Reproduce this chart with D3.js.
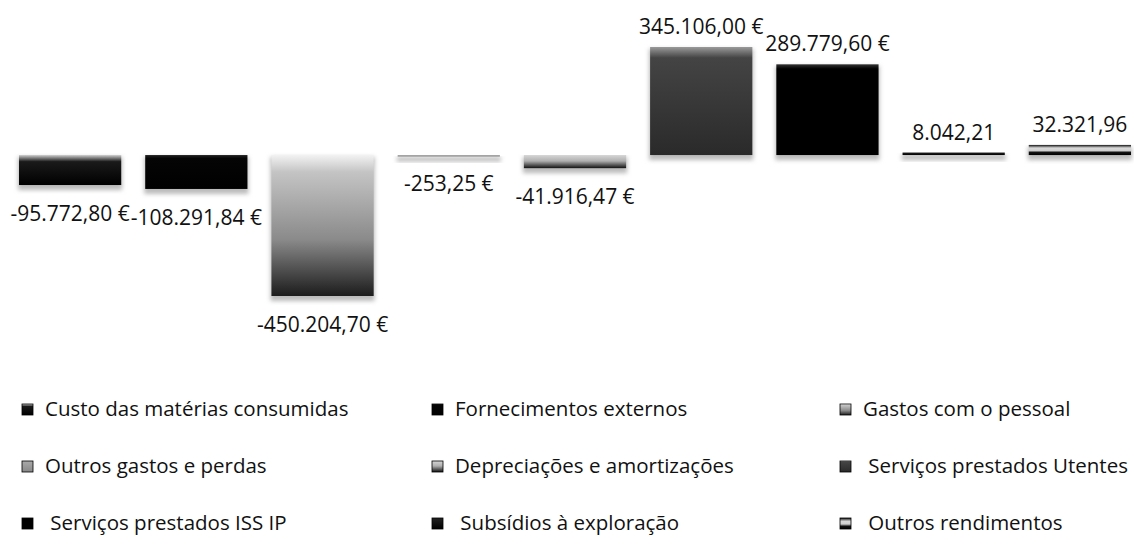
<!DOCTYPE html>
<html>
<head>
<meta charset="utf-8">
<script src="https://cdn.jsdelivr.net/npm/d3@7"></script>
<style>
  body { margin: 0; background: #fff; }
  text { font-family: "Open Sans", "Noto Sans", sans-serif; fill: #111; }
</style>
</head>
<body>
<div id="chart"></div>
<script>
const categories = [
    "Custo das matérias consumidas", "Fornecimentos externos", "Gastos com o pessoal",
    "Outros gastos e perdas", "Depreciações e amortizações", " Serviços prestados Utentes",
    " Serviços prestados ISS IP", " Subsídios à exploração", " Outros rendimentos"
];
const values = [-95772.80, -108291.84, -450204.70, -253.25, -41916.47, 345106.00, 289779.60, 8042.21, 32321.96];
const valueLabels = [
    "-95.772,80 €", "-108.291,84 €", "-450.204,70 €", "-253,25 €", "-41.916,47 €",
    "345.106,00 €", "289.779,60 €", "8.042,21", "32.321,96"
];
// grey shading of each bar, top to bottom
const shades = [
    [["0", "#cfcfcf"], ["0.22", "#1a1a1a"], ["1", "#000"]],
    [["0", "#222"], ["0.1", "#050505"], ["1", "#000"]],
    [["0", "#f2f2f2"], ["0.12", "#c4c4c4"], ["0.6", "#8a8a8a"], ["1", "#1c1c1c"]],
    [["0", "#aaa"], ["1", "#888"]],
    [["0", "#d6d6d6"], ["0.45", "#b0b0b0"], ["1", "#111"]],
    [["0", "#9a9a9a"], ["0.1", "#444"], ["1", "#2a2a2a"]],
    [["0", "#333"], ["0.05", "#000"], ["1", "#000"]],
    [["0", "#222"], ["1", "#000"]],
    [["0", "#111"], ["0.3", "#d8d8d8"], ["0.55", "#d0d0d0"], ["0.75", "#111"], ["1", "#000"]]
];

const width = 1134, height = 551;
const svg = d3.select('#chart').append('svg')
    .attr('width', width)
    .attr('height', height);

const defs = svg.append('defs');
shades.forEach((s, i) => {
    const g = defs.append('linearGradient')
        .attr('id', 'g' + i)
        .attr('x1', 0).attr('y1', 0).attr('x2', 0).attr('y2', 1);
    s.forEach(st => g.append('stop').attr('offset', st[0]).attr('stop-color', st[1]));
});
defs.append('filter').attr('id', 'blur')
    .attr('x', '-10%').attr('y', '-10%').attr('width', '120%').attr('height', '140%')
  .append('feGaussianBlur').attr('stdDeviation', 2);

const x = d3.scaleBand()
    .domain(d3.range(values.length))
    .range([7, 1143])
    .paddingInner(0.19)
    .paddingOuter(0.095);

const y = d3.scaleLinear()
    .domain([d3.min(values), d3.max(values)])
    .range([296, 47]);

const barTop = v => Math.min(y(v), y(0));
const barH = v => Math.max(Math.abs(y(v) - y(0)), 1.5);

// soft shadow under each bar
svg.append('g').selectAll('rect')
    .data(values)
  .enter().append('rect')
    .attr('x', (d, i) => x(i) - 1)
    .attr('y', d => barTop(d) + 2)
    .attr('width', x.bandwidth() + 2)
    .attr('height', d => barH(d) + 3)
    .attr('fill', '#bbb')
    .attr('filter', 'url(#blur)');

svg.append('g').selectAll('rect')
    .data(values)
  .enter().append('rect')
    .attr('x', (d, i) => x(i))
    .attr('y', d => barTop(d))
    .attr('width', x.bandwidth())
    .attr('height', d => barH(d))
    .attr('fill', (d, i) => `url(#g${i})`);

svg.append('g').selectAll('text')
    .data(values)
  .enter().append('text')
    .attr('x', (d, i) => x(i) + x.bandwidth() / 2)
    .attr('y', d => d < 0 ? y(d) + 36 : y(d) - 13)
    .attr('text-anchor', 'middle')
    .attr('font-size', '21px')
    .text((d, i) => valueLabels[i]);

// legend, 3 columns, row-major
const colX = [22, 432, 840];
const rowY = [409, 466, 523];
const leg = svg.append('g').selectAll('g')
    .data(categories)
  .enter().append('g')
    .attr('transform', (d, i) => `translate(${colX[i % 3]},${rowY[Math.floor(i / 3)]})`);

leg.append('rect')
    .attr('x', 0).attr('y', -5)
    .attr('width', 11).attr('height', 11)
    .attr('fill', (d, i) => `url(#g${i})`)
    .attr('stroke', '#000').attr('stroke-width', 0.8);

leg.append('text')
    .attr('x', 23)
    .attr('y', 7)
    .attr('font-size', '20.5px')
    .style('white-space', 'pre')
    .text(d => d);
</script>
</body>
</html>
